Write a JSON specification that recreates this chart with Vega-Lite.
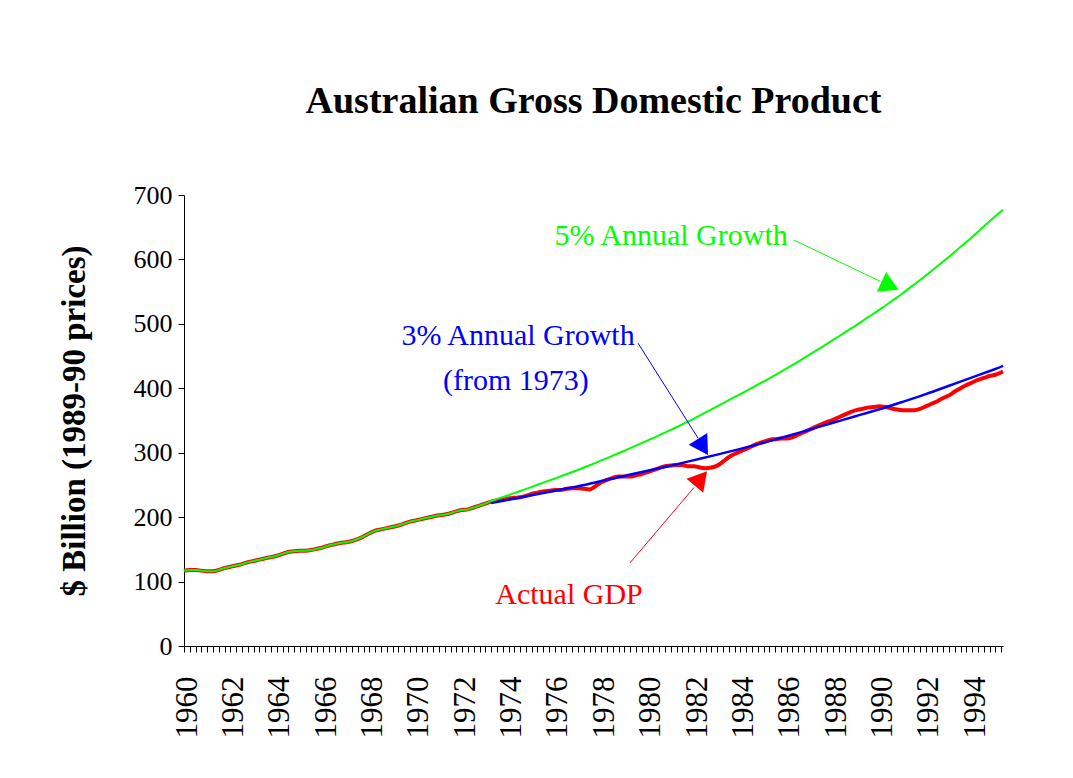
{
  "$schema": "https://vega.github.io/schema/vega-lite/v6.json",
  "autosize": {"type": "none"},
  "width": 819,
  "height": 451,
  "padding": {"left": 184, "top": 195, "right": 70, "bottom": 132},
  "background": "white",
  "config": {"view": {"stroke": null}, "font": "Liberation Serif"},
  "title": {"text": "Australian Gross Domestic Product", "font": "Liberation Serif", "fontSize": 38, "fontWeight": "bold", "color": "black", "anchor": "middle", "frame": "group", "baseline": "alphabetic", "offset": 31},
  "datasets": {
    "gdp": [
      {"d": "1960-01-01", "actual": 117, "g5": 117},
      {"d": "1960-04-01", "actual": 118, "g5": 118},
      {"d": "1960-07-01", "actual": 118, "g5": 118},
      {"d": "1960-10-01", "actual": 117, "g5": 117},
      {"d": "1961-01-01", "actual": 116, "g5": 116},
      {"d": "1961-04-01", "actual": 116, "g5": 116},
      {"d": "1961-07-01", "actual": 118, "g5": 118},
      {"d": "1961-10-01", "actual": 121, "g5": 121},
      {"d": "1962-01-01", "actual": 123, "g5": 123},
      {"d": "1962-04-01", "actual": 125, "g5": 125},
      {"d": "1962-07-01", "actual": 127, "g5": 127},
      {"d": "1962-10-01", "actual": 130, "g5": 130},
      {"d": "1963-01-01", "actual": 132, "g5": 132},
      {"d": "1963-04-01", "actual": 134, "g5": 134},
      {"d": "1963-07-01", "actual": 136, "g5": 136},
      {"d": "1963-10-01", "actual": 138, "g5": 138},
      {"d": "1964-01-01", "actual": 140, "g5": 140},
      {"d": "1964-04-01", "actual": 143, "g5": 143},
      {"d": "1964-07-01", "actual": 146, "g5": 146},
      {"d": "1964-10-01", "actual": 147, "g5": 147},
      {"d": "1965-01-01", "actual": 148, "g5": 148},
      {"d": "1965-04-01", "actual": 148, "g5": 148},
      {"d": "1965-07-01", "actual": 149, "g5": 149},
      {"d": "1965-10-01", "actual": 151, "g5": 151},
      {"d": "1966-01-01", "actual": 153, "g5": 153},
      {"d": "1966-04-01", "actual": 156, "g5": 156},
      {"d": "1966-07-01", "actual": 158, "g5": 158},
      {"d": "1966-10-01", "actual": 160, "g5": 160},
      {"d": "1967-01-01", "actual": 161, "g5": 161},
      {"d": "1967-04-01", "actual": 163, "g5": 163},
      {"d": "1967-07-01", "actual": 166, "g5": 166},
      {"d": "1967-10-01", "actual": 170, "g5": 170},
      {"d": "1968-01-01", "actual": 175, "g5": 175},
      {"d": "1968-04-01", "actual": 179, "g5": 179},
      {"d": "1968-07-01", "actual": 181, "g5": 181},
      {"d": "1968-10-01", "actual": 183, "g5": 183},
      {"d": "1969-01-01", "actual": 185, "g5": 185},
      {"d": "1969-04-01", "actual": 187, "g5": 187},
      {"d": "1969-07-01", "actual": 190, "g5": 190},
      {"d": "1969-10-01", "actual": 193, "g5": 193},
      {"d": "1970-01-01", "actual": 195, "g5": 195},
      {"d": "1970-04-01", "actual": 197, "g5": 197},
      {"d": "1970-07-01", "actual": 199, "g5": 199},
      {"d": "1970-10-01", "actual": 201, "g5": 201},
      {"d": "1971-01-01", "actual": 203, "g5": 203},
      {"d": "1971-04-01", "actual": 204, "g5": 204},
      {"d": "1971-07-01", "actual": 206, "g5": 206},
      {"d": "1971-10-01", "actual": 209, "g5": 209},
      {"d": "1972-01-01", "actual": 211, "g5": 211},
      {"d": "1972-04-01", "actual": 212, "g5": 212},
      {"d": "1972-07-01", "actual": 215, "g5": 215},
      {"d": "1972-10-01", "actual": 218, "g5": 218},
      {"d": "1973-01-01", "actual": 221, "g5": 221},
      {"d": "1973-04-01", "actual": 224, "g3": 222, "g5": 225},
      {"d": "1973-07-01", "actual": 226, "g5": 228},
      {"d": "1973-10-01", "actual": 227},
      {"d": "1974-01-01", "actual": 229, "g3": 227, "g5": 234},
      {"d": "1974-04-01", "actual": 230},
      {"d": "1974-07-01", "actual": 231, "g5": 240.5},
      {"d": "1974-10-01", "actual": 233},
      {"d": "1975-01-01", "actual": 236, "g3": 234, "g5": 247},
      {"d": "1975-04-01", "actual": 238},
      {"d": "1975-07-01", "actual": 240, "g5": 253.5},
      {"d": "1975-10-01", "actual": 241},
      {"d": "1976-01-01", "actual": 242, "g3": 241, "g5": 260},
      {"d": "1976-04-01", "actual": 242},
      {"d": "1976-07-01", "actual": 244, "g5": 266.5},
      {"d": "1976-10-01", "actual": 245},
      {"d": "1977-01-01", "actual": 245, "g3": 248, "g5": 273.5},
      {"d": "1977-04-01", "actual": 244},
      {"d": "1977-07-01", "actual": 243, "g5": 280.5},
      {"d": "1977-10-01", "actual": 248},
      {"d": "1978-01-01", "actual": 254, "g3": 256, "g5": 288},
      {"d": "1978-04-01", "actual": 258},
      {"d": "1978-07-01", "actual": 261, "g5": 295.5},
      {"d": "1978-10-01", "actual": 263},
      {"d": "1979-01-01", "actual": 263, "g3": 264, "g5": 303},
      {"d": "1979-04-01", "actual": 263},
      {"d": "1979-07-01", "actual": 265, "g5": 311},
      {"d": "1979-10-01", "actual": 267},
      {"d": "1980-01-01", "actual": 270, "g3": 272, "g5": 319},
      {"d": "1980-04-01", "actual": 273},
      {"d": "1980-07-01", "actual": 276, "g5": 327},
      {"d": "1980-10-01", "actual": 279},
      {"d": "1981-01-01", "actual": 280, "g3": 280, "g5": 335.5},
      {"d": "1981-04-01", "actual": 281},
      {"d": "1981-07-01", "actual": 281, "g5": 344},
      {"d": "1981-10-01", "actual": 279},
      {"d": "1982-01-01", "actual": 279, "g3": 288.5, "g5": 353},
      {"d": "1982-04-01", "actual": 277},
      {"d": "1982-07-01", "actual": 276, "g5": 362.5},
      {"d": "1982-10-01", "actual": 277},
      {"d": "1983-01-01", "actual": 280, "g3": 297, "g5": 372},
      {"d": "1983-04-01", "actual": 286},
      {"d": "1983-07-01", "actual": 293, "g5": 381.5},
      {"d": "1983-10-01", "actual": 298},
      {"d": "1984-01-01", "actual": 302, "g3": 306, "g5": 391},
      {"d": "1984-04-01", "actual": 306},
      {"d": "1984-07-01", "actual": 310, "g5": 400.5},
      {"d": "1984-10-01", "actual": 314},
      {"d": "1985-01-01", "actual": 317, "g3": 315.5, "g5": 410.5},
      {"d": "1985-04-01", "actual": 320},
      {"d": "1985-07-01", "actual": 321, "g5": 420.5},
      {"d": "1985-10-01", "actual": 322},
      {"d": "1986-01-01", "actual": 322, "g3": 325.5, "g5": 431},
      {"d": "1986-04-01", "actual": 324},
      {"d": "1986-07-01", "actual": 328, "g5": 441.5},
      {"d": "1986-10-01", "actual": 332},
      {"d": "1987-01-01", "actual": 336, "g3": 336, "g5": 452.5},
      {"d": "1987-04-01", "actual": 340},
      {"d": "1987-07-01", "actual": 344, "g5": 463.5},
      {"d": "1987-10-01", "actual": 348},
      {"d": "1988-01-01", "actual": 351, "g3": 346.5, "g5": 475},
      {"d": "1988-04-01", "actual": 355},
      {"d": "1988-07-01", "actual": 359, "g5": 486.5},
      {"d": "1988-10-01", "actual": 363},
      {"d": "1989-01-01", "actual": 366, "g3": 357, "g5": 498},
      {"d": "1989-04-01", "actual": 368},
      {"d": "1989-07-01", "actual": 370, "g5": 510},
      {"d": "1989-10-01", "actual": 371},
      {"d": "1990-01-01", "actual": 372, "g3": 367.5, "g5": 522},
      {"d": "1990-04-01", "actual": 371},
      {"d": "1990-07-01", "actual": 369, "g5": 534.5},
      {"d": "1990-10-01", "actual": 367},
      {"d": "1991-01-01", "actual": 366, "g3": 379, "g5": 547.5},
      {"d": "1991-04-01", "actual": 366},
      {"d": "1991-07-01", "actual": 366, "g5": 561},
      {"d": "1991-10-01", "actual": 368},
      {"d": "1992-01-01", "actual": 372, "g3": 391, "g5": 575},
      {"d": "1992-04-01", "actual": 376},
      {"d": "1992-07-01", "actual": 380, "g5": 589.5},
      {"d": "1992-10-01", "actual": 385},
      {"d": "1993-01-01", "actual": 389, "g3": 404, "g5": 604},
      {"d": "1993-04-01", "actual": 395},
      {"d": "1993-07-01", "actual": 400, "g5": 619.5},
      {"d": "1993-10-01", "actual": 405},
      {"d": "1994-01-01", "actual": 409, "g3": 417, "g5": 635},
      {"d": "1994-04-01", "actual": 413},
      {"d": "1994-07-01", "actual": 416, "g5": 651},
      {"d": "1994-10-01", "actual": 419},
      {"d": "1995-01-01", "actual": 421, "g3": 430, "g5": 667},
      {"d": "1995-05-01", "actual": 426, "g3": 435, "g5": 677}
    ],
    "labels": [
      {"series": "5%", "d": "1981-01-05", "v": 636, "label": "5% Annual Growth"},
      {"series": "3%", "d": "1974-05-30", "v": 481, "label": "3% Annual Growth"},
      {"series": "3%", "d": "1974-04-27", "v": 411, "label": "(from 1973)"},
      {"series": "Actual", "d": "1976-08-10", "v": 79, "label": "Actual GDP"}
    ],
    "arrows": [
      {"series": "5%", "d": "1986-04-25", "v": 630, "d2": "1990-01-12", "v2": 566},
      {"series": "3%", "d": "1979-08-03", "v": 470, "d2": "1982-03-03", "v2": 323},
      {"series": "Actual", "d": "1979-03-29", "v": 129, "d2": "1982-01-01", "v2": 246}
    ],
    "heads": [
      {"series": "5%", "d": "1990-06-17", "v": 559},
      {"series": "3%", "d": "1982-05-22", "v": 309},
      {"series": "Actual", "d": "1982-04-20", "v": 260}
    ]
  },
  "encoding": {
    "x": {
      "field": "d", "type": "temporal",
      "scale": {"type": "utc", "domain": ["1960-01-01", "1995-05-01"]},
      "axis": {
        "title": null, "grid": false,
        "tickCount": {"interval": "month", "step": 3},
        "labelExpr": "utcmonth(datum.value) == 0 && utcyear(datum.value) % 2 == 0 ? '' + utcyear(datum.value) : ''",
        "labelAngle": 270, "labelFont": "Liberation Serif", "labelFontSize": 31, "labelColor": "black",
        "labelPadding": 24, "labelOverlap": false, "labelFlush": false, "labelBound": false, "labelOffset": 3,
        "tickColor": "black", "tickSize": 6, "tickWidth": 1, "domainColor": "black", "domainWidth": 1
      }
    },
    "y": {
      "field": "v", "type": "quantitative",
      "scale": {"domain": [0, 700], "nice": false},
      "axis": {
        "title": "$ Billion (1989-90 prices)", "titleFont": "Liberation Serif", "titleFontSize": 33, "titleFontWeight": "bold", "titleColor": "black", "titlePadding": 42,
        "values": [0, 100, 200, 300, 400, 500, 600, 700], "grid": false,
        "labelFont": "Liberation Serif", "labelFontSize": 26, "labelColor": "black", "labelPadding": 6,
        "tickColor": "black", "tickSize": 6, "domainColor": "black"
      }
    }
  },
  "layer": [
    {
      "data": {"name": "gdp"},
      "transform": [{"filter": "isValid(datum.actual)"}],
      "mark": {"type": "line", "color": "#ff0000", "strokeWidth": 4, "interpolate": "monotone"},
      "encoding": {"y": {"field": "actual", "type": "quantitative"}}
    },
    {
      "data": {"name": "gdp"},
      "transform": [{"filter": "isValid(datum.g3)"}],
      "mark": {"type": "line", "color": "#0000ff", "strokeWidth": 2.5, "interpolate": "natural"},
      "encoding": {"y": {"field": "g3", "type": "quantitative"}}
    },
    {
      "data": {"name": "gdp"},
      "transform": [{"filter": "isValid(datum.g5)"}],
      "mark": {"type": "line", "color": "#00ff00", "strokeWidth": 2, "interpolate": "monotone"},
      "encoding": {"y": {"field": "g5", "type": "quantitative"}}
    },
    {
      "data": {"name": "arrows"},
      "mark": {"type": "rule", "strokeWidth": 1},
      "encoding": {
        "x2": {"field": "d2"},
        "y2": {"field": "v2"},
        "color": {"field": "series", "type": "nominal", "scale": {"domain": ["Actual", "3%", "5%"], "range": ["#ff0000", "#0000ff", "#00ff00"]}, "legend": null}
      }
    },
    {
      "data": {"name": "heads"},
      "transform": [{"filter": "datum.series == '5%'"}],
      "mark": {"type": "point", "shape": "triangle-up", "filled": true, "size": 480, "angle": 115, "opacity": 1},
      "encoding": {"color": {"field": "series", "type": "nominal", "legend": null}}
    },
    {
      "data": {"name": "heads"},
      "transform": [{"filter": "datum.series == '3%'"}],
      "mark": {"type": "point", "shape": "triangle-up", "filled": true, "size": 480, "angle": 148, "opacity": 1},
      "encoding": {"color": {"field": "series", "type": "nominal", "legend": null}}
    },
    {
      "data": {"name": "heads"},
      "transform": [{"filter": "datum.series == 'Actual'"}],
      "mark": {"type": "point", "shape": "triangle-up", "filled": true, "size": 480, "angle": 40, "opacity": 1},
      "encoding": {"color": {"field": "series", "type": "nominal", "legend": null}}
    },
    {
      "data": {"name": "labels"},
      "mark": {"type": "text", "font": "Liberation Serif", "fontSize": 30, "align": "center", "baseline": "middle"},
      "encoding": {
        "text": {"field": "label"},
        "color": {"field": "series", "type": "nominal", "legend": null}
      }
    }
  ]
}
